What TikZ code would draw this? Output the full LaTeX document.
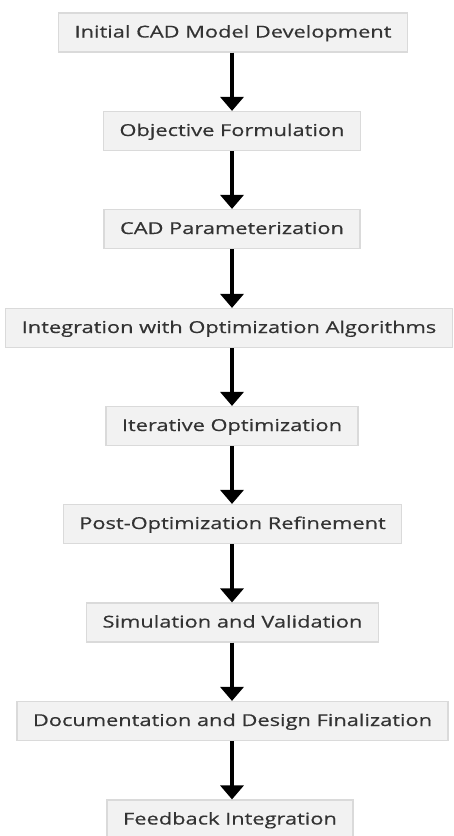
\documentclass[tikz,border=0pt]{standalone}
\usepackage{fontspec}
\setmainfont{Open Sans}
\newfontfamily\boxfont[FakeStretch=1.33,FakeBold=0.5]{Open Sans}
\usetikzlibrary{arrows.meta}
\definecolor{boxfill}{HTML}{F2F2F2}
\definecolor{boxline}{HTML}{DADADA}
\definecolor{txt}{HTML}{333333}
\tikzset{
  stepbox/.style={draw=boxline, line width=1.2pt, fill=boxfill, text=txt,
    minimum height=39pt, inner xsep=16pt, inner ysep=0pt,
    text height=12pt, text depth=2pt,
    font=\boxfont\fontsize{16.4pt}{19pt}\selectfont},
  flow/.style={line width=4pt, -{Triangle[width=23pt,length=14pt]}}
}
\begin{document}
\begin{tikzpicture}[x=1pt,y=1pt]
\useasboundingbox (0,0) rectangle (453,-836);
\fill[white] (0,0) rectangle (453,-836);
\node[stepbox] (n1) at (233,-32.5) {Initial CAD Model Development};
\node[stepbox] (n2) at (232,-131) {Objective Formulation};
\node[stepbox] (n3) at (232,-229) {CAD Parameterization};
\node[stepbox] (n4) at (229,-328) {Integration with Optimization Algorithms};
\node[stepbox] (n5) at (232,-426) {Iterative Optimization};
\node[stepbox] (n6) at (232.5,-524) {Post-Optimization Refinement};
\node[stepbox] (n7) at (232.5,-622.5) {Simulation and Validation};
\node[stepbox] (n8) at (232.5,-721) {Documentation and Design Finalization};
\node[stepbox] (n9) at (230,-819.5) {Feedback Integration};
\foreach \a/\b in {n1/n2,n2/n3,n3/n4,n4/n5,n5/n6,n6/n7,n7/n8,n8/n9}
  \draw[flow] (\a.south -| 232,0) -- (\b.north -| 232,0);
\end{tikzpicture}
\end{document}
